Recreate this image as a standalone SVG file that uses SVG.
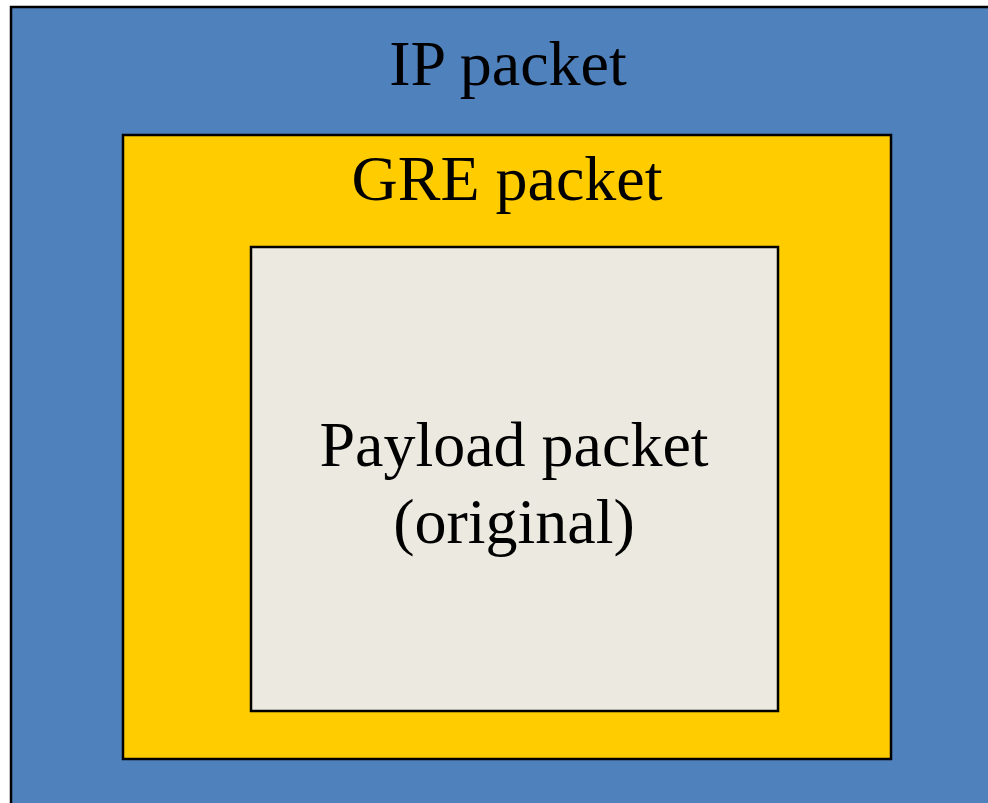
<svg xmlns="http://www.w3.org/2000/svg" width="988" height="803" viewBox="0 0 988 803">
  <style>
    .box { stroke: #000; stroke-width: 2.5; }
    .label { font-family: "Liberation Serif", "Times New Roman", serif; font-size: 64px; fill: #000; text-anchor: middle; }
  </style>
  <rect width="988" height="803" fill="#fff"/>
  <g id="ip-packet">
    <rect class="box" x="11" y="7" width="990" height="810" fill="#4f81bd"/>
    <text class="label" x="508" y="85">IP packet</text>
  </g>
  <g id="gre-packet">
    <rect class="box" x="123" y="135" width="768" height="624" fill="#ffcc00"/>
    <text class="label" x="507" y="200">GRE packet</text>
  </g>
  <g id="payload-packet">
    <rect class="box" x="251" y="247" width="527" height="464" fill="#eceae0"/>
    <text class="label" x="514" y="466">Payload packet</text>
    <text class="label" x="514" y="543">(original)</text>
  </g>
  <g id="connectors"/>
</svg>
